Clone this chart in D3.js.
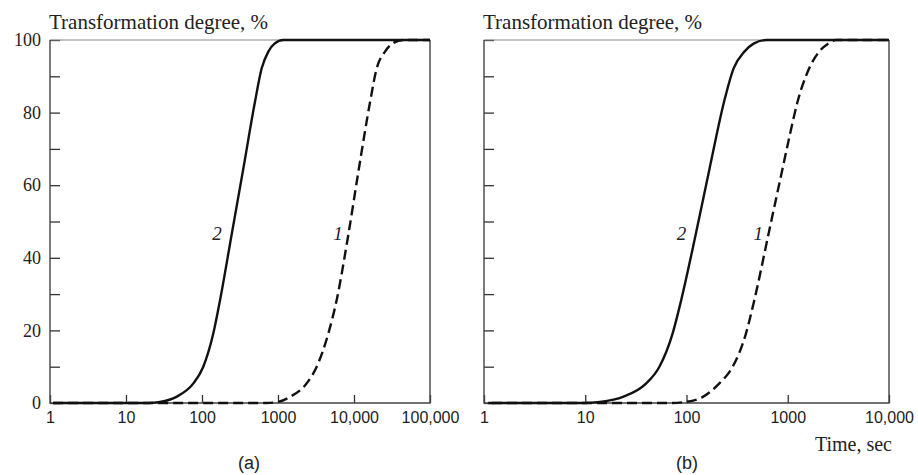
<!DOCTYPE html>
<html>
<head>
<meta charset="utf-8">
<script src="https://cdn.jsdelivr.net/npm/d3@7"></script>
<style>
body{margin:0;background:#fff;}
svg{display:block;}
</style>
</head>
<body>
<svg id="chart" width="918" height="475"></svg>
<script>
// ---- Data ----
const yTicks = [0,10,20,30,40,50,60,70,80,90,100];
const xTicksA = [1,10,100,1000,10000,100000];
const xLabelsA = ["1","10","100","1000","10,000","100,000"];
const xTicksB = [1,10,100,1000,10000];
const xLabelsB = ["1","10","100","1000","10,000"];

// Panel (a), curve 2 (solid)
const timeA2 = [1.1, 20, 28, 46, 77, 104, 141, 173, 245, 350, 498, 610, 746, 900, 1175, 100000];
const valA2  = [0,   0,  0.3,1.7,5.4,10,  19.2,28.4,46.3,64.6,83,  92.2,96.8,99,  100,  100];
// Panel (a), curve 1 (dashed)
const timeA1 = [1.1, 700, 1000, 1440, 2380, 3230, 4600, 5920, 8410, 11600, 16300, 19900, 25600, 33000, 44300, 100000];
const valA1  = [0,   0,   0.3,  1.7,  5.4,  10,   19.2, 28.4, 46.3, 64.6,  83,    92.2,  96.8,  99.2,  100,   100];
// Panel (b), curve 2 (solid)
const timeB2 = [1.1, 10, 13.9, 23.6, 40, 54, 73, 88.7, 123, 169, 235, 292, 373, 460, 615, 10000];
const valB2  = [0,   0,  0.3,  1.7,  5.4,10, 19.2,28.4,46.3,64.6,83, 92.2,96.8,99,  100, 100];
// Panel (b), curve 1 (dashed)
const timeB1 = [1.2, 70, 99, 145, 211, 286, 387, 468, 653, 889, 1047, 1250, 1630, 2043, 2500, 2985, 10000];
const valB1  = [0,   0,  0.3,1.7, 5.4, 10,  19.2,28.4,47.2,64.6,73.8, 83,   92.2, 96.8, 99,   100,  100];

const yTitle = "Transformation degree, %";
const xTitle = "Time, sec";

// ---- Drawing ----
const svg = d3.select("#chart");
const serif = "'Liberation Serif','Times New Roman',serif";
const sans = "'Liberation Sans',Arial,sans-serif";

const y = d3.scaleLinear().domain([0,100]).range([403,40]);

function panel(xScale, xTicks, xLabels, showYLabels, curves, labels, caption, capX) {
  const [x0, x1] = xScale.range();
  const yAxis = d3.axisLeft(y).tickValues(yTicks).tickSize(-10).tickSizeOuter(0).tickPadding(9)
    .tickFormat(d => showYLabels && d % 20 === 0 ? String(d) : "");
  const gy = svg.append("g").attr("transform", `translate(${x0},0)`).call(yAxis);
  gy.selectAll("text").attr("font-family", serif).attr("font-size", 18).attr("fill", "#222");
  gy.selectAll("line").attr("stroke", "#333").attr("stroke-width", 1.3);
  gy.select(".domain").remove();

  const xAxis = d3.axisBottom(xScale).tickValues(xTicks).tickSize(-8).tickSizeOuter(0).tickPadding(9)
    .tickFormat((d, i) => xLabels[i]);
  const gx = svg.append("g").attr("transform", `translate(0,${y(0)})`).call(xAxis);
  gx.selectAll("text").attr("font-family", sans).attr("font-size", 16).attr("fill", "#222");
  gx.selectAll("line").attr("stroke", "#333").attr("stroke-width", 1.3);
  gx.select(".domain").remove();

  // frame: left/bottom/right darker, top lighter
  svg.append("line").attr("x1", x0).attr("x2", x1).attr("y1", y(100)).attr("y2", y(100))
    .attr("stroke", "#888").attr("stroke-width", 1.2);
  svg.append("path").attr("d", `M${x0},${y(100)}V${y(0)}H${x1}V${y(100)}`)
    .attr("fill", "none").attr("stroke", "#444").attr("stroke-width", 1.4);

  const line = d3.line().x(d => xScale(d[0])).y(d => y(d[1])).curve(d3.curveMonotoneX);
  curves.forEach(c => {
    svg.append("path").datum(d3.zip(c.t, c.v)).attr("d", line)
      .attr("fill", "none").attr("stroke", "#111").attr("stroke-width", 2.4)
      .attr("stroke-dasharray", c.dash ? "10,5" : null);
  });

  labels.forEach(l => {
    svg.append("text").attr("x", xScale(l.t)).attr("y", y(l.v)).text(l.text)
      .attr("font-family", serif).attr("font-style", "italic").attr("font-size", 19)
      .attr("text-anchor", "middle").attr("fill", "#222");
  });

  svg.append("text").attr("x", x0 - 1).attr("y", 29).text(yTitle)
    .attr("font-family", serif).attr("font-size", 21).attr("fill", "#222");

  svg.append("text").attr("x", capX).attr("y", 469).text(caption)
    .attr("font-family", sans).attr("font-size", 18).attr("text-anchor", "middle").attr("fill", "#222");
}

const xa = d3.scaleLog().domain([1,100000]).range([50,430]);
const xb = d3.scaleLog().domain([1,10000]).range([484,889]);

panel(xa, xTicksA, xLabelsA, true,
  [{t: timeA2, v: valA2, dash: false}, {t: timeA1, v: valA1, dash: true}],
  [{t: 157, v: 45, text: "2"}, {t: 6160, v: 45, text: "1"}], "(a)", 249);
panel(xb, xTicksB, xLabelsB, false,
  [{t: timeB2, v: valB2, dash: false}, {t: timeB1, v: valB1, dash: true}],
  [{t: 89, v: 45, text: "2"}, {t: 512, v: 45, text: "1"}], "(b)", 687);

svg.append("text").attr("x", 892).attr("y", 451).text(xTitle)
  .attr("font-family", serif).attr("font-size", 20).attr("text-anchor", "end").attr("fill", "#222");
</script>
</body>
</html>
